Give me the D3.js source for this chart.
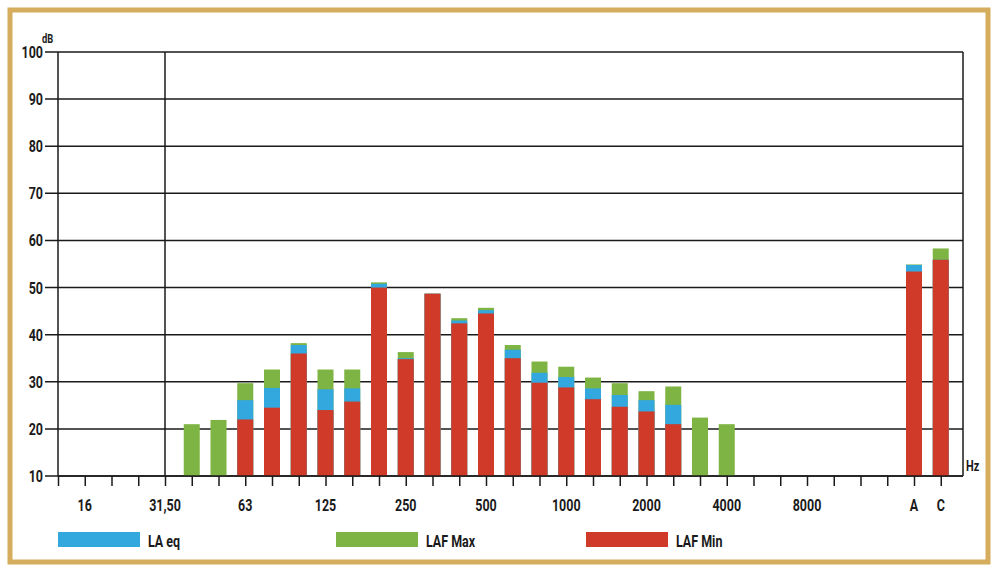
<!DOCTYPE html>
<html>
<head>
<meta charset="utf-8">
<script src="https://cdn.jsdelivr.net/npm/d3@7"></script>
<style>
  body { margin: 0; background: #fff; }
  text { font-family: "Roboto", "DejaVu Sans", sans-serif; font-weight: bold; fill: #1a1a1a; }
</style>
</head>
<body>
<div id="chart"></div>
<script>
// third-octave bands, then A and C weighted totals
var categories = ["12,5","16","20","25","31,50","40","50","63","80","100","125","160","200","250","315","400","500",
                  "630","800","1000","1250","1600","2000","2500","3150","4000","5000","6300","8000","10000","12500","16000","A","C"];
var tickLabels = ["16","31,50","63","125","250","500","1000","2000","4000","8000","A","C"];
var yTicks = [10,20,30,40,50,60,70,80,90,100];

// values in dB, null = no bar
var lafMax = [null,null,null,null,null,21.0,21.9,29.7,32.6,38.2,32.6,32.6,51.1,36.3,48.7,43.5,45.7,
              37.8,34.3,33.2,30.9,29.7,28.0,29.0,22.4,21.0,null,null,null,null,null,null,54.9,58.3];
var laEq   = [null,null,null,null,null,null,null,26.1,28.7,37.8,28.4,28.6,50.8,35.0,48.7,43.0,45.2,
              36.8,31.9,31.0,28.6,27.2,26.1,25.1,null,null,null,null,null,null,null,null,54.8,55.9];
var lafMin = [null,null,null,null,null,null,null,22.0,24.5,36.0,24.0,25.8,50.0,34.8,48.7,42.4,44.5,
              35.0,29.8,28.8,26.3,24.7,23.7,21.0,null,null,null,null,null,null,null,null,53.4,55.9];

var legendItems = ["LA eq","LAF Max","LAF Min"];
var colors = {"LA eq": "#33a8df", "LAF Max": "#7db443", "LAF Min": "#cf3a29"};

var width = 992, height = 569;
var pLeft = 58, pRight = 963, pTop = 52, pBottom = 476;
var squeeze = 0.78; // narrow lettering like the original

var svg = d3.select("#chart").append("svg")
    .attr("width", width)
    .attr("height", height);

svg.append("rect")
    .attr("x", 10).attr("y", 10)
    .attr("width", 978).attr("height", 552)
    .attr("fill", "#fff")
    .attr("stroke", "#d6ad5c")
    .attr("stroke-width", 5);

function label(px, py, txt, size, anchor) {
    return svg.append("text")
        .attr("transform", "translate(" + px + "," + py + ") scale(" + squeeze + ",1)")
        .attr("text-anchor", anchor || "start")
        .attr("font-size", size)
        .text(txt);
}

var x = d3.scalePoint()
    .domain(categories)
    .range([pLeft, pLeft + 26.75 * (categories.length - 1)]);

var y = d3.scaleLinear()
    .domain([10, 100])
    .range([pBottom, pTop]);

// horizontal grid + y labels
svg.append("g").selectAll("line")
    .data(yTicks)
    .enter().append("line")
    .attr("x1", pLeft - 13).attr("x2", pRight)
    .attr("y1", d => y(d)).attr("y2", d => y(d))
    .attr("stroke", "#1a1a1a")
    .attr("stroke-width", 1.5);

yTicks.forEach(d => label(pLeft - 15, y(d) + 6, d, 16, "end"));

label(42, 43, "dB", 12);

// vertical lines
[pLeft, x("31,50"), pRight].forEach(function(v) {
    svg.append("line")
        .attr("x1", v).attr("x2", v)
        .attr("y1", pTop).attr("y2", pBottom)
        .attr("stroke", "#1a1a1a")
        .attr("stroke-width", 1.5);
});

// bars: max behind, eq, min in front
var series = [["LAF Max", lafMax], ["LA eq", laEq], ["LAF Min", lafMin]];
var barW = 16;
series.forEach(function(s) {
    svg.append("g").selectAll("rect")
        .data(categories.map((c, i) => ({c: c, v: s[1][i]})).filter(d => d.v != null))
        .enter().append("rect")
        .attr("x", d => x(d.c) - barW / 2)
        .attr("width", barW)
        .attr("y", d => y(d.v))
        .attr("height", d => y(10) - y(d.v))
        .attr("fill", colors[s[0]]);
});

// x axis
var xAxis = svg.append("g")
    .attr("transform", "translate(0," + pBottom + ")")
    .call(d3.axisBottom(x).tickSize(10).tickFormat(""));
xAxis.select(".domain").attr("d", "M" + pLeft + ",0H" + pRight).attr("stroke", "#1a1a1a").attr("stroke-width", 1.5);
xAxis.selectAll(".tick line").attr("stroke", "#1a1a1a").attr("stroke-width", 1.5);

tickLabels.forEach(t => label(x(t), 511, t, 16, "middle"));

label(966, 471, "Hz", 14);

// legend
var legendX = [58, 336, 586];
legendItems.forEach(function(name, i) {
    svg.append("rect")
        .attr("x", legendX[i]).attr("y", 532)
        .attr("width", 82).attr("height", 15)
        .attr("fill", colors[name]);
    label(legendX[i] + 90, 547, name, 16);
});
</script>
</body>
</html>
